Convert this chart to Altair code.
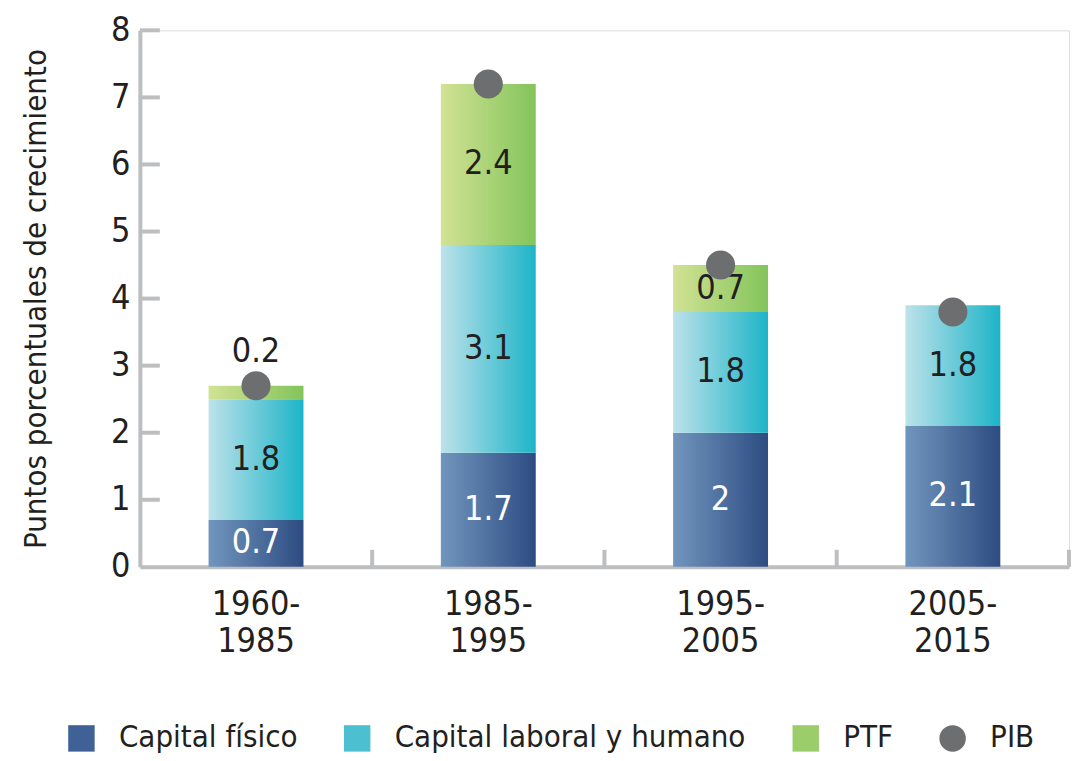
import altair as alt
import pandas as pd

periods = ["1960-1985", "1985-1995", "1995-2005", "2005-2015"]
capital_fisico = [0.7, 1.7, 2.0, 2.1]
capital_laboral = [1.8, 3.1, 1.8, 1.8]
ptf = [0.2, 2.4, 0.7, 0.0]
pib = [2.7, 7.2, 4.5, 3.8]
series = ["Capital físico", "Capital laboral y humano", "PTF", "PIB"]
y_ticks = [1, 2, 3, 4, 5, 6, 7, 8]

FONT = "Liberation Sans Narrow, DejaVu Sans Condensed, Roboto Condensed, Liberation Sans"
TEXT = "#231f20"
AXIS = "#bcbec0"
W, H = 930, 537

rows = []
for i, p in enumerate(periods):
    for k, (name, vals) in enumerate(zip(series[:3], [capital_fisico, capital_laboral, ptf])):
        rows.append({"period": p, "component": name, "order": k, "value": vals[i]})
df = pd.DataFrame(rows)
df_pib = pd.DataFrame({"period": periods, "pib": pib})
df_leg = pd.DataFrame({"series": series})
df_yt = pd.DataFrame({"v": y_ticks})
df_xt = pd.DataFrame({"period": periods})

xscale = alt.Scale(domain=periods, paddingInner=0, paddingOuter=0)
yscale = alt.Scale(domain=[0, 8], nice=False)

def grad(c0, c1):
    return alt.Gradient(gradient="linear",
                        stops=[alt.GradientStop(color=c0, offset=0),
                               alt.GradientStop(color=c1, offset=1)],
                        x1=0, x2=1, y1=0, y2=0)

grads = {
    "Capital físico": grad("#7196bd", "#2d4c82"),
    "Capital laboral y humano": grad("#bde2ea", "#1db4c8"),
    "PTF": grad("#d2e294", "#83c45b"),
}
label_colors = {"Capital físico": "white", "Capital laboral y humano": TEXT, "PTF": TEXT}

stacked = alt.Chart(df).transform_stack(
    stack="value", groupby=["period"], as_=["y0", "y1"],
    sort=[alt.SortField("order", order="ascending")]
)

x_enc = alt.X("period:N", scale=xscale,
              axis=alt.Axis(title=None, labelAngle=0,
                            labelExpr="[slice(datum.label,0,5), slice(datum.label,5)]",
                            labelFont=FONT, labelFontSize=34, labelColor=TEXT, labelPadding=21,
                            labelLineHeight=37, ticks=False, domainColor=AXIS, domainWidth=4))
y_enc_axis = alt.Axis(title="Puntos porcentuales de crecimiento", titleFont=FONT,
                      titleFontSize=31, titleFontWeight="normal", titleColor=TEXT,
                      titlePadding=58, values=[0, 1, 2, 3, 4, 5, 6, 7, 8], format="d",
                      labelFont=FONT, labelFontSize=34, labelColor=TEXT, labelPadding=10,
                      ticks=False, grid=False, domainColor=AXIS, domainWidth=4)

layers = []
for name in series[:3]:
    layers.append(
        stacked.transform_filter(alt.datum.component == name)
        .mark_bar(fill=grads[name], size=95)
        .encode(x=x_enc, y=alt.Y("y0:Q", scale=yscale, axis=y_enc_axis), y2="y1:Q")
    )

for name in series[:3]:
    layers.append(
        stacked.transform_filter((alt.datum.component == name) & (alt.datum.value > 0))
        .transform_calculate(pos="datum.value < 0.5 ? datum.y1 + 0.5 : (datum.y0 + datum.y1) / 2")
        .mark_text(font=FONT, fontSize=34, color=label_colors[name], baseline="middle")
        .encode(x=alt.X("period:N", scale=xscale), y=alt.Y("pos:Q", scale=yscale),
                text=alt.Text("value:Q", format=".1~f"))
    )

points = alt.Chart(df_pib).mark_circle(size=850, color="#6d6e70", opacity=1).encode(
    x=alt.X("period:N", scale=xscale), y=alt.Y("pib:Q", scale=yscale)
)
layers.append(points)

yticks = alt.Chart(df_yt).mark_rule(color=AXIS, strokeWidth=4).encode(
    y=alt.Y("v:Q", scale=yscale), x=alt.value(0), x2=alt.value(20)
)
xticks_a = alt.Chart(df_xt).transform_filter(alt.datum.period != periods[0]).mark_rule(
    color=AXIS, strokeWidth=4).encode(
    x=alt.X("period:N", scale=xscale, bandPosition=0), y=alt.value(H), y2=alt.value(H - 17)
)
xticks_b = alt.Chart(df_xt).transform_filter(alt.datum.period == periods[-1]).mark_rule(
    color=AXIS, strokeWidth=4).encode(
    x=alt.X("period:N", scale=xscale, bandPosition=1), y=alt.value(H), y2=alt.value(H - 17)
)
layers += [yticks, xticks_a, xticks_b]

legend_layer = alt.Chart(df_leg).mark_point(filled=True, size=0, opacity=1).encode(
    color=alt.Color("series:N", scale=alt.Scale(domain=series,
                    range=["#3f6196", "#4cc0d1", "#9bcd6b", "#6d6e70"]),
                    legend=alt.Legend(title=None, orient="none", direction="horizontal",
                                      legendX=-74, legendY=693,
                                      labelFont=FONT, labelFontSize=31, labelColor=TEXT,
                                      symbolSize=700, symbolOpacity=1, symbolStrokeWidth=0,
                                      labelOffset=22, columnPadding=44, labelLimit=500)),
    shape=alt.Shape("series:N", scale=alt.Scale(domain=series,
                    range=["square", "square", "square", "circle"])),
)
layers.append(legend_layer)

chart = alt.layer(*layers).properties(
    width=W, height=H, padding={"left": 12, "top": 5, "right": 0, "bottom": 0}
).configure_view(stroke=None).configure(background="white")

chart.save("out.html", embed_options={"renderer": "svg", "actions": False})
